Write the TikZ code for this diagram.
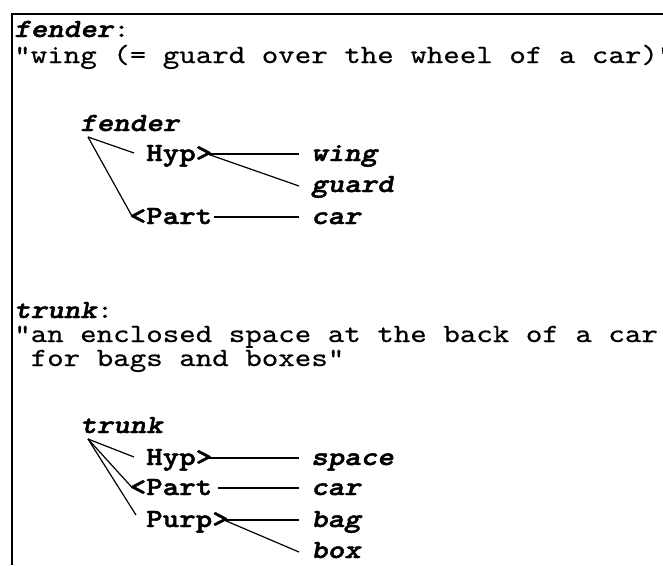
\documentclass[tikz,border=0pt]{standalone}
\usepackage{fontspec}
\newfontfamily\cour{lmmono10-regular.otf}[FakeStretch=1.2,
  UprightFeatures={FakeBold=0.5},
  BoldFont=lmmonolt10-bold.otf,
  BoldFeatures={FakeBold=1.8},
  BoldItalicFont=lmmonolt10-boldoblique.otf,
  BoldItalicFeatures={FakeBold=1.8},
  ItalicFont=lmmono10-italic.otf]
\tikzset{
  txt/.style={anchor=base west, inner sep=0pt, font=\cour\fontsize{26.2}{28}\selectfont},
  head/.style={txt, font=\cour\fontsize{26.2}{28}\selectfont\bfseries\itshape},
  rel/.style={txt, font=\cour\fontsize{26.2}{28}\selectfont\bfseries},
  conn/.style={line width=1.2pt},
  frameline/.style={line width=1.8pt}
}
\newcommand{\colx}[1]{\fpeval{14+16.5*(#1)}}
\begin{document}
\begin{tikzpicture}[x=1pt,y=-1pt]
\useasboundingbox (0,0) rectangle (663,565);
\draw[frameline] (663,14) -- (12,14) -- (12,565);

% ---- block 1: fender
\node[txt] (t1) at (\colx{0},37) {{\bfseries\itshape fender}:};
\node[txt] (d1) at (\colx{0},63) {"wing (= guard over the wheel of a car)"};
\node[head] (f1) at (\colx{4},131) {fender};
\node[rel] (h1) at (\colx{8},161) {Hyp>};
\node[head] (w1) at (\colx{18},161) {wing};
\node[head] (g1) at (\colx{18},192) {guard};
\node[rel] (p1) at (\colx{7},224) {<Part};
\node[head] (c1) at (\colx{18},224) {car};

\draw[conn] ([xshift=8pt,yshift=-6pt]f1.base west) -- ([xshift=-12pt,yshift=8pt]h1.base west);
\draw[conn] ([xshift=8pt,yshift=-6pt]f1.base west) -- ([xshift=3pt,yshift=7pt]p1.base west);
\draw[conn] ([xshift=-5pt,yshift=7pt]h1.base east) -- ([xshift=-12pt,yshift=7pt]w1.base west);
\draw[conn] ([xshift=-5pt,yshift=7pt]h1.base east) -- ([xshift=-12pt,yshift=6pt]g1.base west);
\draw[conn] ([xshift=2pt,yshift=7pt]p1.base east) -- ([xshift=-12pt,yshift=7pt]c1.base west);

% ---- block 2: trunk
\node[txt] (t2) at (\colx{0},318) {{\bfseries\itshape trunk}:};
\node[txt] (d2) at (\colx{0},342) {"an enclosed space at the back of a car};
\node[txt] (d3) at (\colx{1},366) {for bags and boxes"};
\node[head] (f2) at (\colx{4},433) {trunk};
\node[rel] (h2) at (\colx{8},465) {Hyp>};
\node[head] (s2) at (\colx{18},465) {space};
\node[rel] (p2) at (\colx{7},495) {<Part};
\node[head] (c2) at (\colx{18},495) {car};
\node[rel] (u2) at (\colx{8},527) {Purp>};
\node[head] (b2) at (\colx{18},527) {bag};
\node[head] (x2) at (\colx{18},558) {box};

\draw[conn] ([xshift=8pt,yshift=-6pt]f2.base west) -- ([xshift=-12pt,yshift=8pt]h2.base west);
\draw[conn] ([xshift=8pt,yshift=-6pt]f2.base west) -- ([xshift=3pt,yshift=7pt]p2.base west);
\draw[conn] ([xshift=8pt,yshift=-6pt]f2.base west) -- ([xshift=-10pt,yshift=12pt]u2.base west);
\draw[conn] ([xshift=-5pt,yshift=7pt]h2.base east) -- ([xshift=-12pt,yshift=7pt]s2.base west);
\draw[conn] ([xshift=6pt,yshift=7pt]p2.base east) -- ([xshift=-12pt,yshift=7pt]c2.base west);
\draw[conn] ([xshift=-5pt,yshift=7pt]u2.base east) -- ([xshift=-12pt,yshift=7pt]b2.base west);
\draw[conn] ([xshift=-5pt,yshift=7pt]u2.base east) -- ([xshift=-12pt,yshift=6pt]x2.base west);
\end{tikzpicture}
\end{document}
